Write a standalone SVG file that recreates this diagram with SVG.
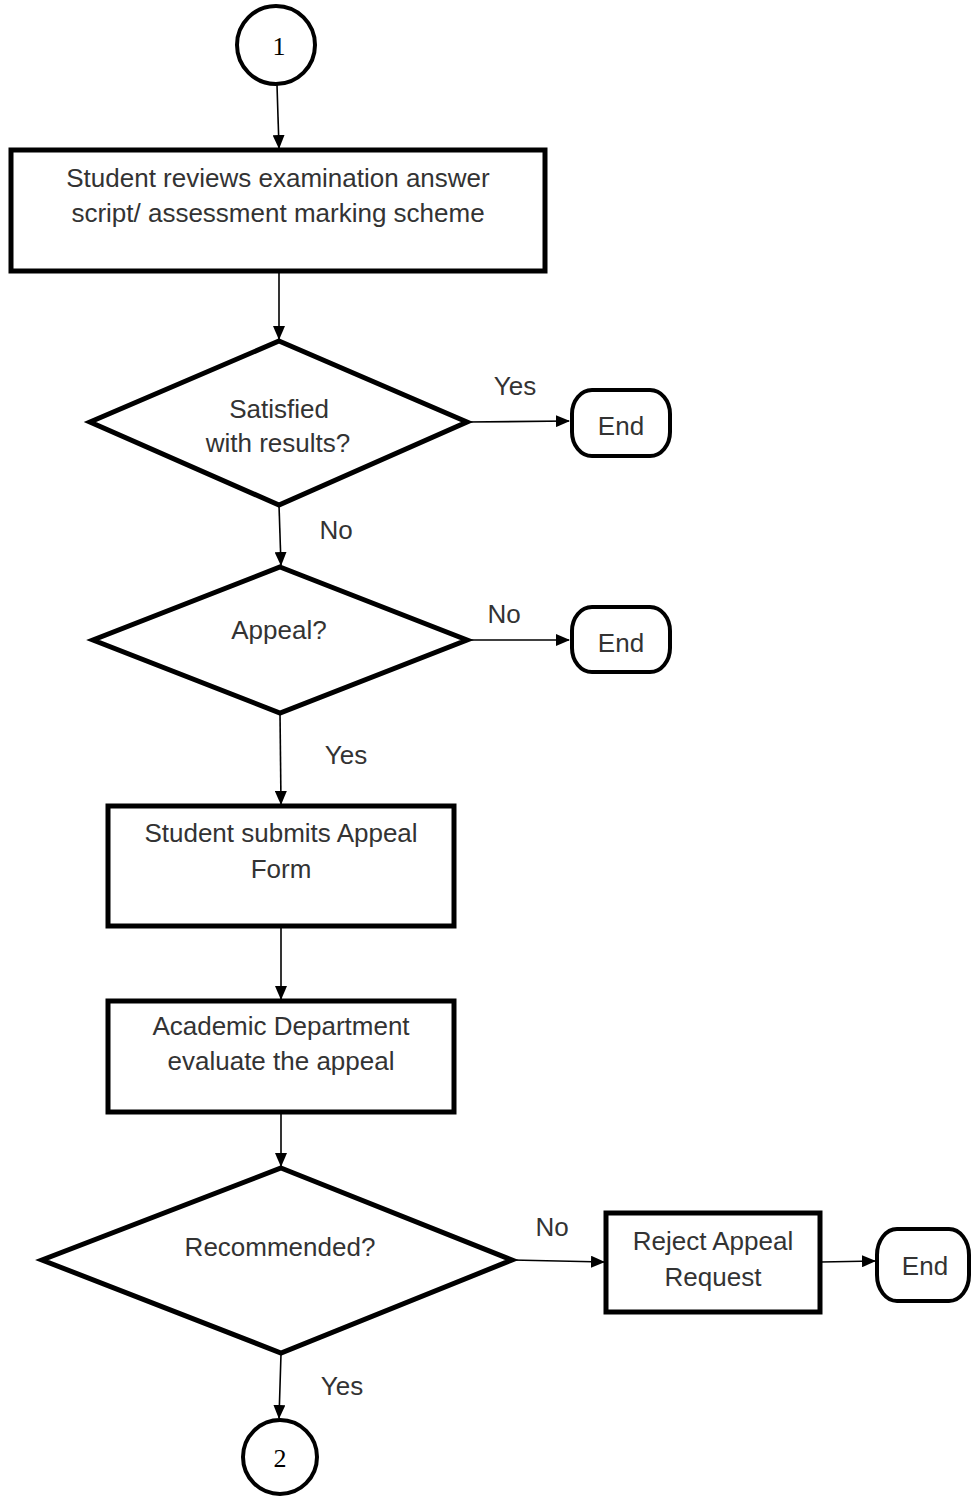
<svg xmlns="http://www.w3.org/2000/svg" width="971" height="1496" viewBox="0 0 971 1496">
<defs>
<marker id="ah" markerWidth="14" markerHeight="12" refX="13" refY="6" orient="auto" markerUnits="userSpaceOnUse">
<path d="M0,0 L14,6 L0,12 Z" fill="#000"/>
</marker>
<style>
.box{fill:#fff;stroke:#000;stroke-width:5}
.thin{fill:#fff;stroke:#000;stroke-width:4}
.con{fill:none;stroke:#000;stroke-width:1.6;marker-end:url(#ah)}
.t{font-family:"Liberation Sans",Arial,sans-serif;font-size:26px;fill:#333;text-anchor:middle}
.n{font-family:"Liberation Serif","Times New Roman",serif;font-size:26px;fill:#000;text-anchor:middle}
</style>
</defs>
<rect width="971" height="1496" fill="#fff"/>
<g id="connectors">
<line class="con" x1="277" y1="85" x2="279" y2="148"/>
<line class="con" x1="279" y1="272" x2="279" y2="339"/>
<line class="con" x1="467" y1="422" x2="569" y2="421"/>
<line class="con" x1="279" y1="505" x2="281" y2="565"/>
<line class="con" x1="467" y1="640" x2="569" y2="640"/>
<line class="con" x1="280" y1="713" x2="281" y2="804"/>
<line class="con" x1="281" y1="928" x2="281" y2="999"/>
<line class="con" x1="281" y1="1114" x2="281" y2="1166"/>
<line class="con" x1="512" y1="1260" x2="604" y2="1262"/>
<line class="con" x1="821" y1="1262" x2="875" y2="1261"/>
<line class="con" x1="281" y1="1354" x2="279" y2="1418"/>
<text class="t" x="515" y="395">Yes</text>
<text class="t" x="336" y="539">No</text>
<text class="t" x="504" y="623">No</text>
<text class="t" x="346" y="764">Yes</text>
<text class="t" x="552" y="1236">No</text>
<text class="t" x="342" y="1395">Yes</text>
</g>
<g id="start1">
<circle class="thin" cx="276" cy="45" r="39"/>
<text class="n" x="279" y="55">1</text>
</g>
<g id="review">
<rect class="box" x="11" y="150" width="534" height="121"/>
<text class="t" x="278" y="187">Student reviews examination answer</text>
<text class="t" x="278" y="222">script/ assessment marking scheme</text>
</g>
<g id="satisfied">
<polygon class="box" points="279,341 467,422 279,505 90,422"/>
<text class="t" x="279" y="418">Satisfied</text>
<text class="t" x="278" y="452">with results?</text>
</g>
<g id="end1">
<rect class="thin" x="572" y="390" width="98" height="66" rx="20" ry="24"/>
<text class="t" x="621" y="435">End</text>
</g>
<g id="appeal">
<polygon class="box" points="280,567 467,640 280,713 93,640"/>
<text class="t" x="279" y="639">Appeal?</text>
</g>
<g id="end2">
<rect class="thin" x="572" y="607" width="98" height="65" rx="20" ry="24"/>
<text class="t" x="621" y="652">End</text>
</g>
<g id="submit">
<rect class="box" x="108" y="806" width="346" height="120"/>
<text class="t" x="281" y="842">Student submits Appeal</text>
<text class="t" x="281" y="878">Form</text>
</g>
<g id="evaluate">
<rect class="box" x="108" y="1001" width="346" height="111"/>
<text class="t" x="281" y="1035">Academic Department</text>
<text class="t" x="281" y="1070">evaluate the appeal</text>
</g>
<g id="recommended">
<polygon class="box" points="281,1168 512,1260 281,1353 42,1260"/>
<text class="t" x="280" y="1256">Recommended?</text>
</g>
<g id="reject">
<rect class="box" x="606" y="1213" width="214" height="99"/>
<text class="t" x="713" y="1250">Reject Appeal</text>
<text class="t" x="713" y="1286">Request</text>
</g>
<g id="end3">
<rect class="thin" x="877" y="1229" width="92" height="72" rx="20" ry="26"/>
<text class="t" x="925" y="1275">End</text>
</g>
<g id="connector2">
<circle class="thin" cx="280" cy="1457" r="37"/>
<text class="n" x="280" y="1467">2</text>
</g>
</svg>
